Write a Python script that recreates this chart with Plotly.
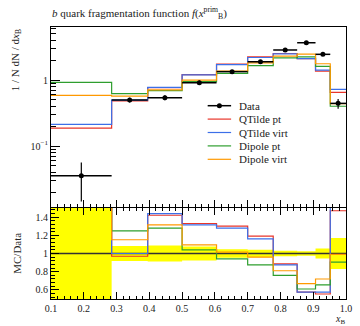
import plotly.graph_objects as go

# ---- data ----
edges = [0.1, 0.285, 0.395, 0.5, 0.605, 0.7, 0.778, 0.851, 0.907, 0.952, 1.0]
data_vals = [0.0355, 0.497, 0.54, 0.91, 1.34, 1.89, 2.85, 3.67, 2.45, 0.443]
data_err = [0.021, 0.041, 0.048, 0.07, 0.063, 0.076, 0.085, 0.092, 0.135, 0.075]
qtilde_pt = [0.1875, 0.482, 0.767, 1.21, 1.742, 2.249, 2.522, 2.11, 1.36, 0.651]
qtilde_virt = [0.213, 0.497, 0.776, 1.197, 1.715, 2.192, 2.494, 2.11, 1.409, 0.723]
dipole_pt = [0.92, 0.621, 0.691, 0.946, 1.26, 1.654, 2.166, 2.239, 1.605, 0.401]
dipole_virt = [0.586, 0.572, 0.710, 0.996, 1.36, 1.814, 2.309, 2.459, 1.764, 0.439]
x_ticks = [0.1, 0.2, 0.3, 0.4, 0.5, 0.6, 0.7, 0.8, 0.9, 1.0]
x_ticklabels = ["0.1", "0.2", "0.3", "0.4", "0.5", "0.6", "0.7", "0.8", "0.9", "1.0"]
ratio_ticks = [0.6, 0.8, 1.0, 1.2, 1.4]
ratio_ticklabels = ["0.6", "0.8", "1", "1.2", "1.4"]
legend_labels = ["Data", "QTilde pt", "QTilde virt", "Dipole pt", "Dipole virt"]

series = [
    ("QTilde pt", qtilde_pt, "#e8352a"),
    ("QTilde virt", qtilde_virt, "#3c6fe8"),
    ("Dipole pt", dipole_pt, "#2e9e2e"),
    ("Dipole virt", dipole_virt, "#ff9900"),
]

FONT = "Liberation Serif"
TXT = "#222"
centers = [(a + b) / 2 for a, b in zip(edges[:-1], edges[1:])]
halfw = [(b - a) / 2 for a, b in zip(edges[:-1], edges[1:])]

# plot-area geometry in pixels (used for the paper-space legend)
W, H = 360, 326
ML, MR, MT, MB = 50.5, 7.3, 27, 27
PW, PH = W - ML - MR, H - MT - MB


def px_to_paper(px, py):
    return (px - ML) / PW, (H - MB - py) / PH


def step(vals):
    return list(vals) + [vals[-1]]


fig = go.Figure()

# ---- ratio panel: data uncertainty band ----
rel = [e / d for e, d in zip(data_err, data_vals)]
lo = [1 - r for r in rel]
hi = [1 + r for r in rel]
fig.add_trace(go.Scatter(x=edges, y=step(lo), mode="lines", line=dict(width=0, shape="hv"),
                         xaxis="x2", yaxis="y2", showlegend=False, hoverinfo="skip"))
fig.add_trace(go.Scatter(x=edges, y=step(hi), mode="lines", line=dict(width=0, shape="hv"),
                         fill="tonexty", fillcolor="#ffff00",
                         xaxis="x2", yaxis="y2", showlegend=False, hoverinfo="skip"))
fig.add_trace(go.Scatter(x=edges, y=step([d / d for d in data_vals]), mode="lines",
                         line=dict(width=1.6, color="#333333", shape="hv"),
                         xaxis="x2", yaxis="y2", showlegend=False, hoverinfo="skip"))

for name, vals, col in series:
    fig.add_trace(go.Scatter(x=edges, y=step([m / d for m, d in zip(vals, data_vals)]), mode="lines",
                             line=dict(width=1.2, color=col, shape="hv"),
                             xaxis="x2", yaxis="y2", showlegend=False))

# ---- main panel ----
for name, vals, col in series:
    fig.add_trace(go.Scatter(x=edges, y=step(vals), mode="lines", name=name, showlegend=False,
                             line=dict(width=1.2, color=col, shape="hv")))

fig.add_trace(go.Scatter(x=centers, y=data_vals, mode="markers", showlegend=False, name="Data",
                         marker=dict(color="black", size=5),
                         error_x=dict(type="data", array=halfw, color="black", thickness=1.5, width=0),
                         error_y=dict(type="data", array=data_err, color="black", thickness=1.2, width=0)))

minor_log = [v * s for s in (0.01, 0.1, 1) for v in range(2, 10)]
minor_log = [m for m in minor_log if 0.0119 < m < 6.3]

axis_common = dict(showline=True, linecolor="black", linewidth=1, ticks="inside",
                   tickcolor="black", showgrid=False, zeroline=False,
                   tickfont=dict(family=FONT, size=10, color=TXT))

fig.update_layout(
    width=W, height=H,
    margin=dict(l=ML, r=MR, t=MT, b=MB),
    paper_bgcolor="white", plot_bgcolor="white",
    font=dict(family=FONT, size=11, color=TXT),
    showlegend=False,
    xaxis=dict(domain=[0, 1], range=[0.1, 1.0], anchor="y", showticklabels=False,
               tickvals=x_ticks, ticklen=7, mirror=True,
               minor=dict(dtick=0.02, tick0=0.1, ticklen=3.5, ticks="inside", tickcolor="black"),
               **axis_common),
    yaxis=dict(domain=[0.338, 1], type="log", range=[-1.924, 0.803], anchor="x",
               tickvals=[0.1, 1], ticktext=["10<sup>−1</sup>", "1"], ticklen=9, mirror=True,
               minor=dict(tickvals=minor_log, ticklen=5, ticks="inside", tickcolor="black"),
               **axis_common),
    xaxis2=dict(domain=[0, 1], range=[0.1, 1.0], anchor="y2",
                tickvals=x_ticks, ticktext=x_ticklabels, ticklen=7, mirror="ticks",
                minor=dict(dtick=0.02, tick0=0.1, ticklen=3.5, ticks="inside", tickcolor="black"),
                **axis_common),
    yaxis2=dict(domain=[0, 0.3346], range=[0.5, 1.5], anchor="x2",
                tickvals=ratio_ticks, ticktext=ratio_ticklabels, ticklen=8, mirror=True,
                minor=dict(dtick=0.04, tick0=0.6, ticklen=4, ticks="inside", tickcolor="black"),
                **axis_common),
)

# ---- hand-placed legend (reference rows are tighter than Plotly's legend allows) ----
legend_colors = ["black"] + [c for _, _, c in series]
row_y = [105.7, 119.1, 132.5, 145.9, 159.3]
for lab, col, py in zip(legend_labels, legend_colors, row_y):
    x0, y0 = px_to_paper(211, py)
    x1, _ = px_to_paper(235, py)
    xt, _ = px_to_paper(241, py)
    fig.add_shape(type="line", xref="paper", yref="paper", x0=x0, x1=x1, y0=y0, y1=y0,
                  line=dict(color=col, width=1.5 if lab == "Data" else 1.2))
    if lab == "Data":
        xc, _ = px_to_paper(223, py)
        fig.add_shape(type="circle", xref="paper", yref="paper", xsizemode="pixel", ysizemode="pixel",
                      xanchor=xc, yanchor=y0, x0=-2.5, x1=2.5, y0=-2.5, y1=2.5,
                      fillcolor="black", line=dict(color="black", width=0))
    fig.add_annotation(text=lab, xref="paper", yref="paper", x=xt, y=y0, xanchor="left",
                       yanchor="middle", showarrow=False, font=dict(family=FONT, size=11, color=TXT))

fig.add_annotation(text="<i>b</i> quark fragmentation function <i>f</i>(<i>x</i><sup>prim</sup><sub>B</sub>)",
                   xref="paper", yref="paper", x=-0.002, y=1.0, xanchor="left", yanchor="bottom",
                   yshift=4, showarrow=False, font=dict(family=FONT, size=11, color=TXT))
fig.add_annotation(text="1 / N dN / d<i>x</i><sub>B</sub>", textangle=-90,
                   xref="paper", yref="paper", x=-0.118, y=1.0, xanchor="center", yanchor="top",
                   showarrow=False, font=dict(family=FONT, size=11, color=TXT))
fig.add_annotation(text="MC/Data", textangle=-90,
                   xref="paper", yref="paper", x=-0.118, y=0.167, xanchor="center", yanchor="middle",
                   showarrow=False, font=dict(family=FONT, size=11, color=TXT))
xbx, xby = px_to_paper(353, 319)
fig.add_annotation(text="<i>x</i><sub>B</sub>",
                   xref="paper", yref="paper", x=xbx, y=xby, xanchor="right", yanchor="middle",
                   borderpad=0, showarrow=False, font=dict(family=FONT, size=10, color=TXT))

# remove the default page margin so the 360x326 figure fills the window exactly
fig.write_html("out.html", config={"displayModeBar": False},
               post_script="document.body.style.margin='0';document.body.style.overflow='hidden';")
